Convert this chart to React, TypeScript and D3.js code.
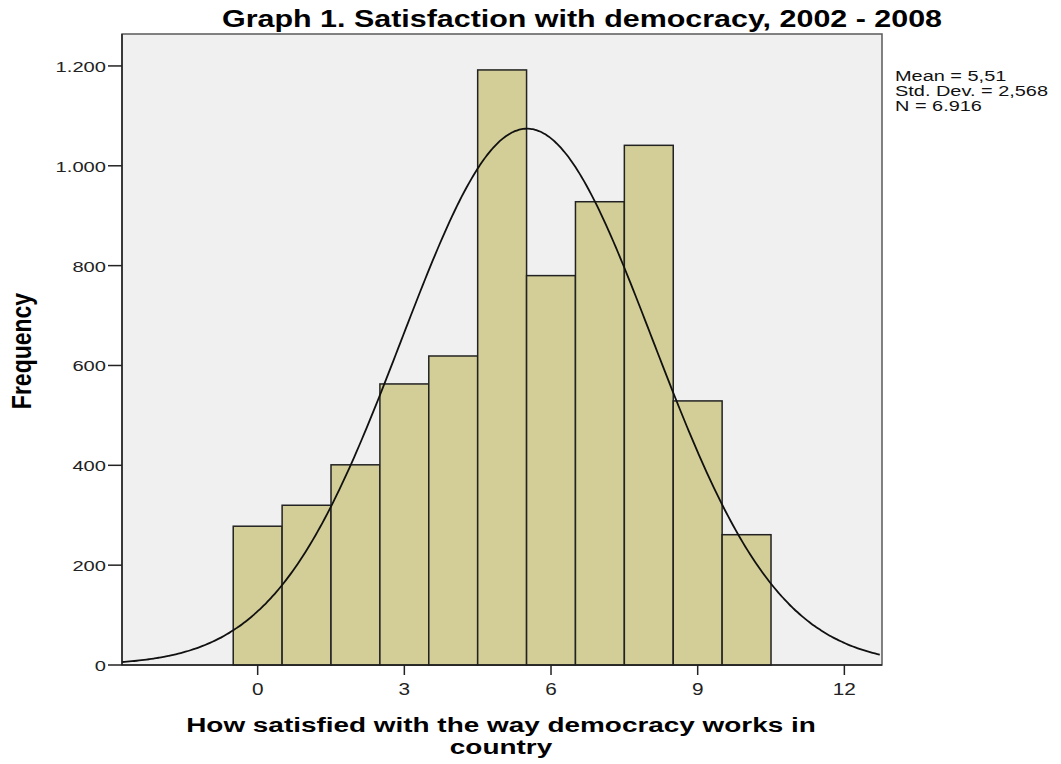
import React from "react";
import * as d3 from "d3";

const categories = [0, 1, 2, 3, 4, 5, 6, 7, 8, 9, 10];
const frequencies = [278, 320, 401, 563, 619, 1192, 780, 928, 1041, 529, 261];
const xTicks = [0, 3, 6, 9, 12];
const yTicks = [0, 200, 400, 600, 800, 1000, 1200];
const yTickLabels = ["0", "200", "400", "600", "800", "1.000", "1.200"];
const statsLines = ["Mean = 5,51", "Std. Dev. = 2,568", "N = 6.916"];
const mean = 5.51;
const sd = 2.568;
const n = 6916;

const W = 1061;
const H = 764;
const m = { left: 122, right: 882, top: 34, bottom: 665 };
const font = "'Liberation Sans', Arial, sans-serif";
const SX = 1.3;

export default function App() {
  const x = d3.scaleLinear().domain([-2.775, 12.77]).range([m.left, m.right]);
  const y = d3.scaleLinear().domain([0, 1264]).range([m.bottom, m.top]);

  const curvePts = d3.range(-2.775, 12.7701, 0.05).map((v) => {
    const pdf = Math.exp(-0.5 * ((v - mean) / sd) ** 2) / (sd * Math.sqrt(2 * Math.PI));
    return [v, n * pdf] as [number, number];
  });
  const line = d3
    .line<[number, number]>()
    .x((d) => x(d[0]))
    .y((d) => y(d[1]))
    .curve(d3.curveBasis);

  return (
    <svg
      width={W}
      height={H}
      style={{ position: "absolute", left: 0, top: 0, display: "block", background: "#fff" }}
    >
      <text
        x={582}
        y={27}
        textAnchor="middle"
        fontFamily={font}
        fontWeight="bold"
        fontSize={23}
        fill="#000"
        textLength={720}
        lengthAdjust="spacingAndGlyphs"
      >
        Graph 1. Satisfaction with democracy, 2002 - 2008
      </text>
      <rect
        x={m.left}
        y={m.top}
        width={m.right - m.left}
        height={m.bottom - m.top}
        fill="#f0f0f0"
        stroke="#5a5a5a"
        strokeWidth={1.5}
      />
      {categories.map((c, i) => (
        <rect
          key={c}
          x={x(c - 0.5)}
          y={y(frequencies[i])}
          width={x(c + 0.5) - x(c - 0.5)}
          height={y(0) - y(frequencies[i])}
          fill="#d3ce97"
          stroke="#222"
          strokeWidth={1.5}
        />
      ))}
      <path d={line(curvePts) || ""} fill="none" stroke="#111" strokeWidth={1.8} />
      <line x1={m.left} x2={m.left} y1={m.top} y2={m.bottom} stroke="#222" strokeWidth={1.5} />
      <line x1={m.left} x2={m.right} y1={m.bottom} y2={m.bottom} stroke="#222" strokeWidth={1.5} />
      {yTicks.map((t, i) => (
        <g key={t}>
          <line x1={m.left - 14} x2={m.left} y1={y(t)} y2={y(t)} stroke="#222" strokeWidth={1.5} />
          <g transform={`translate(${m.left - 16},${y(t) + 6}) scale(${SX},1)`}>
            <text x={0} y={0} textAnchor="end" fontFamily={font} fontSize={15.5} fill="#222">
              {yTickLabels[i]}
            </text>
          </g>
        </g>
      ))}
      {xTicks.map((t) => (
        <g key={t}>
          <line x1={x(t)} x2={x(t)} y1={m.bottom} y2={m.bottom + 10} stroke="#222" strokeWidth={1.5} />
          <g transform={`translate(${x(t)},${m.bottom + 30}) scale(${SX},1)`}>
            <text x={0} y={0} textAnchor="middle" fontFamily={font} fontSize={16} fill="#222">
              {t}
            </text>
          </g>
        </g>
      ))}
      {statsLines.map((s, i) => (
        <g key={s} transform={`translate(895,${81 + i * 15}) scale(1.33,1)`}>
          <text x={0} y={0} fontFamily={font} fontSize={15} fill="#111">
            {s}
          </text>
        </g>
      ))}
      <g transform={`translate(31,351) scale(1.2,1) rotate(-90)`}>
        <text
          x={0}
          y={0}
          textAnchor="middle"
          fontFamily={font}
          fontWeight="bold"
          fontSize={23}
          fill="#000"
        >
          Frequency
        </text>
      </g>
      <g transform={`translate(501,0) scale(1.33,1)`}>
        <text textAnchor="middle" fontFamily={font} fontWeight="bold" fontSize={21} fill="#000">
          <tspan x={0} y={732}>How satisfied with the way democracy works in</tspan>
          <tspan x={0} y={754}>country</tspan>
        </text>
      </g>
    </svg>
  );
}
